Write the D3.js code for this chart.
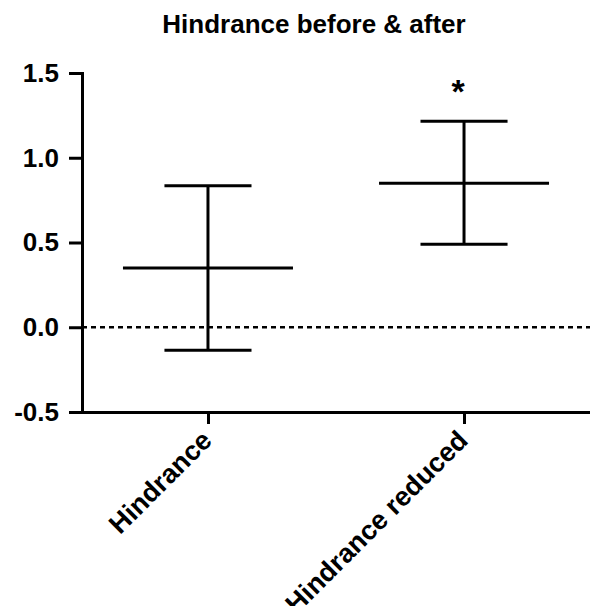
<html>
    <head>
        <script src="https://d3js.org/d3.v7.min.js"></script>
        <meta charset="utf-8" />
        <title>Hindrance before & after</title>
        <style>
            body {
                margin: 0px;
                background: #ffffff;
            }
            text {
                font-family: "Liberation Sans", Arial, sans-serif;
                font-weight: bold;
                fill: #000000;
            }
        </style>
    </head>
    <body>
        <script type="text/javascript">

            // groups on the x axis
            var categories = ["Hindrance", "Hindrance reduced"];
            // mean and error bar limits
            var means = [0.35, 0.85];
            var upper = [0.835, 1.215];
            var lower = [-0.135, 0.49];
            // significance marks above each group
            var marks = ["", "*"];
            // y axis ticks
            var yTicks = [-0.5, 0.0, 0.5, 1.0, 1.5];
            var yTickLabels = ["-0.5", "0.0", "0.5", "1.0", "1.5"];

            var width = 590, height = 606;

            var svg = d3.select("body").append("svg")
                .attr("width", width)
                .attr("height", height);

            svg.append("rect")
                .attr("width", width)
                .attr("height", height)
                .attr("fill", "#ffffff");

            var x = d3.scalePoint()
                .domain(categories)
                .range([82, 590])
                .padding(0.492);

            var y = d3.scaleLinear()
                .domain([-0.5, 1.5])
                .range([412, 73]);

            var step = x.step();

            // title
            svg.append("text")
                .attr("x", 314)
                .attr("y", 33)
                .attr("text-anchor", "middle")
                .style("font-size", "26px")
                .text("Hindrance before & after");

            // dotted zero line
            svg.append("line")
                .attr("x1", 82)
                .attr("x2", 590)
                .attr("y1", y(0))
                .attr("y2", y(0))
                .attr("stroke", "#000")
                .attr("stroke-width", 2.5)
                .attr("stroke-dasharray", "5,4");

            // Y axis
            var yAxis = svg.append("g")
                .attr("transform", "translate(82,0)")
                .call(d3.axisLeft(y)
                    .tickValues(yTicks)
                    .tickFormat((d, i) => yTickLabels[i])
                    .tickSize(13)
                    .tickSizeOuter(0)
                    .tickPadding(10));
            yAxis.selectAll("path, line")
                .attr("stroke", "#000")
                .attr("stroke-width", 3);
            yAxis.select(".domain").attr("stroke-linecap", "square");
            yAxis.selectAll("text")
                .style("font-size", "26px");

            // X axis
            var xAxis = svg.append("g")
                .attr("transform", "translate(0," + y(-0.5) + ")")
                .call(d3.axisBottom(x)
                    .tickSize(12)
                    .tickSizeOuter(0));
            xAxis.selectAll("path, line")
                .attr("stroke", "#000")
                .attr("stroke-width", 3);
            xAxis.selectAll("text")
                .attr("y", 0)
                .attr("dy", 0)
                .attr("text-anchor", "end")
                .attr("transform", "translate(5,30) rotate(-45)")
                .style("font-size", "27px");

            // error bars
            var bars = svg.append("g")
                .selectAll("g")
                .data(categories)
                .enter()
                .append("g");

            bars.append("line")
                .attr("x1", d => x(d))
                .attr("x2", d => x(d))
                .attr("y1", (d, i) => y(upper[i]))
                .attr("y2", (d, i) => y(lower[i]));

            bars.append("line")
                .attr("x1", d => x(d) - step * 0.332)
                .attr("x2", d => x(d) + step * 0.332)
                .attr("y1", (d, i) => y(means[i]))
                .attr("y2", (d, i) => y(means[i]));

            bars.append("line")
                .attr("x1", d => x(d) - step * 0.17)
                .attr("x2", d => x(d) + step * 0.17)
                .attr("y1", (d, i) => y(upper[i]))
                .attr("y2", (d, i) => y(upper[i]));

            bars.append("line")
                .attr("x1", d => x(d) - step * 0.17)
                .attr("x2", d => x(d) + step * 0.17)
                .attr("y1", (d, i) => y(lower[i]))
                .attr("y2", (d, i) => y(lower[i]));

            bars.selectAll("line")
                .attr("stroke", "#000")
                .attr("stroke-width", 3);

            bars.append("text")
                .attr("x", d => x(d) - 6)
                .attr("y", (d, i) => y(upper[i]) - 18)
                .attr("text-anchor", "middle")
                .style("font-size", "34px")
                .text((d, i) => marks[i]);

        </script>
    </body>
</html>
